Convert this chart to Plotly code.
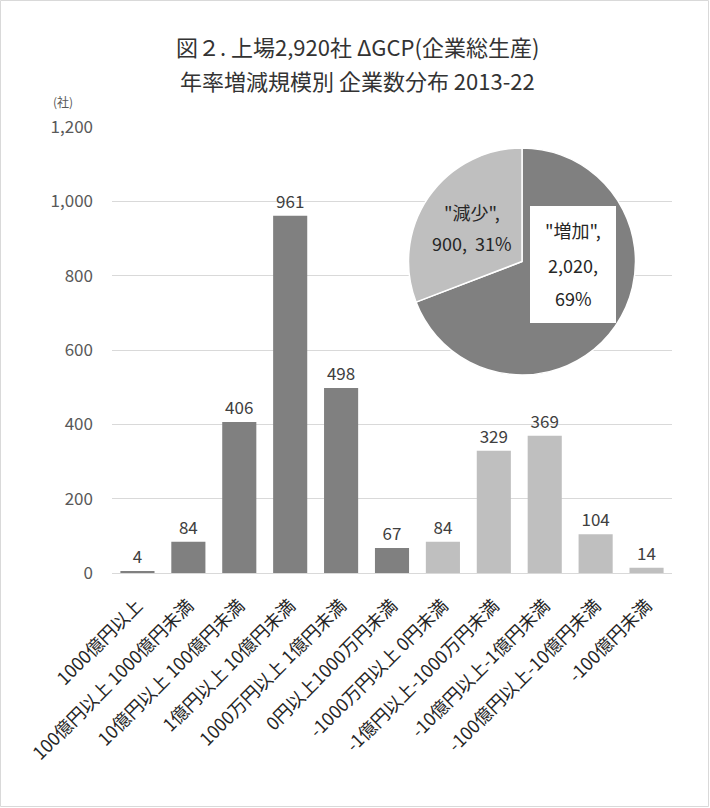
import plotly.graph_objects as go

# ---- data ----
categories = [
    "1000億円以上",
    "100億円以上 1000億円未満",
    "10億円以上 100億円未満",
    "1億円以上 10億円未満",
    "1000万円以上 1億円未満",
    "0円以上1000万円未満",
    "-1000万円以上 0円未満",
    "-1億円以上-1000万円未満",
    "-10億円以上-1億円未満",
    "-100億円以上-10億円未満",
    "-100億円未満",
]
counts = [4, 84, 406, 961, 498, 67, 84, 329, 369, 104, 14]
is_increase = [True, True, True, True, True, True, False, False, False, False, False]

pie_labels = ["増加", "減少"]
pie_values = [2020, 900]

y_ticks = [0, 200, 400, 600, 800, 1000, 1200]

DARK = "#808080"
LIGHT = "#bfbfbf"
FONT = "Noto Sans CJK JP"

W, H = 710, 808
L, R, T, B = 112, 38, 127, 235
PW, PH = W - L - R, H - T - B


def px_x(x):
    return (x - L) / PW


def px_y(y):
    return (H - B - y) / PH


bar_colors = [DARK if inc else LIGHT for inc in is_increase]

fig = go.Figure()
fig.add_trace(go.Bar(
    x=categories,
    y=counts,
    marker=dict(color=bar_colors, line=dict(width=0)),
    text=[f"{v:,}" for v in counts],
    textposition="outside",
    textfont=dict(family=FONT, size=17, color="#404040"),
    cliponaxis=False,
    hoverinfo="skip",
    showlegend=False,
))

pie_total = sum(pie_values)
fig.add_trace(go.Pie(
    labels=pie_labels,
    values=pie_values,
    sort=False,
    direction="clockwise",
    rotation=0,
    marker=dict(colors=[DARK, LIGHT], line=dict(color="white", width=1.5)),
    textinfo="none",
    hoverinfo="skip",
    showlegend=False,
    domain=dict(x=[px_x(408), px_x(636)], y=[px_y(375), px_y(148)]),
))

annotations = []
# title (two lines)
annotations.append(dict(text="図２. 上場2,920社 ΔGCP(企業総生産)", x=px_x(357), xref="paper",
                        y=px_y(46), yref="paper", showarrow=False,
                        font=dict(family=FONT, size=22, color="#333333"),
                        xanchor="center", yanchor="middle"))
annotations.append(dict(text="年率増減規模別 企業数分布 2013-22", x=px_x(357), xref="paper",
                        y=px_y(80), yref="paper", showarrow=False,
                        font=dict(family=FONT, size=22, color="#333333"),
                        xanchor="center", yanchor="middle"))
# y unit
annotations.append(dict(text="(社)", x=px_x(63), xref="paper", y=px_y(101), yref="paper",
                        showarrow=False, font=dict(family=FONT, size=12, color="#595959"),
                        xanchor="center", yanchor="middle"))

# pie labels
pct = [round(v / pie_total * 100) for v in pie_values]
inc_lines = [f'"{pie_labels[0]}",', f"{pie_values[0]:,},", f"{pct[0]}%"]
for line, yy in zip(inc_lines, [230, 265, 298]):
    annotations.append(dict(text=line, x=px_x(573), xref="paper", y=px_y(yy), yref="paper",
                            showarrow=False, font=dict(family=FONT, size=18, color="#262626"),
                            xanchor="center", yanchor="middle"))
dec_lines = [f'"{pie_labels[1]}",', f"{pie_values[1]:,},  {pct[1]}%"]
for line, yy in zip(dec_lines, [212, 243]):
    annotations.append(dict(text=line, x=px_x(472), xref="paper", y=px_y(yy), yref="paper",
                            showarrow=False, font=dict(family=FONT, size=18, color="#262626"),
                            xanchor="center", yanchor="middle"))

shapes = [
    # white box behind 増加 label
    dict(type="rect", xref="paper", yref="paper",
         x0=px_x(530), x1=px_x(616), y0=px_y(323), y1=px_y(206),
         fillcolor="white", line=dict(width=0), layer="above"),
    # outer chart border
    dict(type="rect", xref="paper", yref="paper",
         x0=px_x(0.5), x1=px_x(W - 1.5), y0=px_y(H - 1.5), y1=px_y(0.5),
         fillcolor="rgba(0,0,0,0)", line=dict(color="#d9d9d9", width=1), layer="below"),
]

fig.update_layout(
    width=W, height=H,
    margin=dict(l=L, r=R, t=T, b=B, pad=0),
    paper_bgcolor="white",
    plot_bgcolor="white",
    bargap=0.33,
    font=dict(family=FONT, color="#404040"),
    annotations=annotations,
    shapes=shapes,
    xaxis=dict(
        tickangle=-45,
        tickfont=dict(family=FONT, size=18, color="#262626"),
        showgrid=False,
        showline=True,
        linecolor="#d9d9d9",
        linewidth=1,
        ticks="",
        ticklabelstandoff=14,
        fixedrange=True,
    ),
    yaxis=dict(
        range=[0, 1200],
        tickvals=y_ticks,
        ticktext=[f"{v:,}" for v in y_ticks],
        tickfont=dict(family=FONT, size=17, color="#595959"),
        showgrid=True,
        gridcolor="#d9d9d9",
        gridwidth=1,
        zeroline=False,
        showline=False,
        ticks="",
        ticklabelstandoff=18,
        fixedrange=True,
    ),
)

fig.write_html("out.html")
